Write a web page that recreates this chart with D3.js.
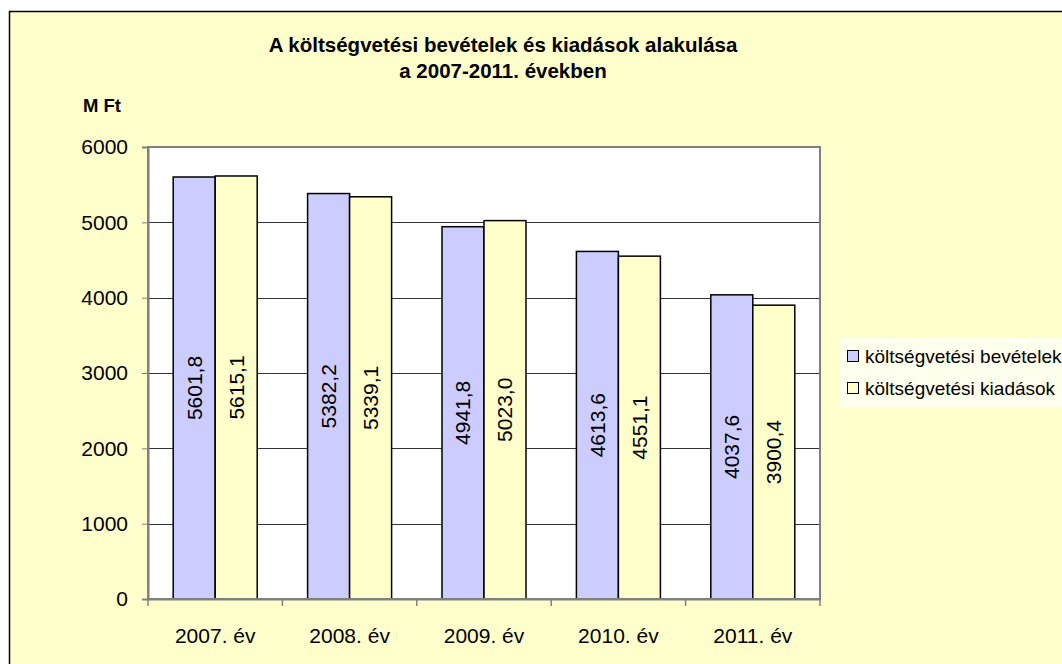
<!DOCTYPE html>
<html>
<head>
<meta charset="utf-8">
<script src="https://cdn.jsdelivr.net/npm/d3@7"></script>
<style>
  body { margin: 0; background: #fff; }
  svg { display: block; font-family: "Liberation Sans", Arial, sans-serif; }
</style>
</head>
<body>
<div id="root"></div>
<script>
const years = ["2007. év", "2008. év", "2009. év", "2010. év", "2011. év"];
const bevetelek = [5601.8, 5382.2, 4941.8, 4613.6, 4037.6];
const kiadasok = [5615.1, 5339.1, 5023.0, 4551.1, 3900.4];
const seriesNames = ["költségvetési bevételek", "költségvetési kiadások"];
const seriesColors = ["#ccccff", "#ffffcc"];
const yTicks = [0, 1000, 2000, 3000, 4000, 5000, 6000];

const W = 1062, H = 664;
const plot = { left: 148, right: 820, top: 147, bottom: 599 };
const FONT = "Liberation Sans, Arial, sans-serif";

const svg = d3.select("#root").append("svg")
  .attr("width", W).attr("height", H);

// chart area
svg.append("rect")
  .attr("x", 9.5).attr("y", 11.5)
  .attr("width", W + 20).attr("height", H + 20)
  .attr("fill", "#ffffcc")
  .attr("stroke", "#000").attr("stroke-width", 1.5);

const x = d3.scaleBand()
  .domain(years)
  .range([plot.left, plot.right])
  .paddingInner(0).paddingOuter(0);

const y = d3.scaleLinear()
  .domain([0, 6000])
  .range([plot.bottom, plot.top]);

// plot area
svg.append("rect")
  .attr("x", plot.left).attr("y", plot.top)
  .attr("width", plot.right - plot.left).attr("height", plot.bottom - plot.top)
  .attr("fill", "#fff");

// gridlines
svg.append("g")
  .selectAll("line")
  .data(yTicks.filter(d => d > 0 && d < 6000))
  .enter().append("line")
  .attr("x1", plot.left).attr("x2", plot.right)
  .attr("y1", d => Math.round(y(d)) + 0.5).attr("y2", d => Math.round(y(d)) + 0.5)
  .attr("stroke", "#333").attr("stroke-width", 1);

// bars
const inner = d3.scaleBand()
  .domain([0, 1])
  .range([0, x.bandwidth()])
  .paddingOuter(0.6).paddingInner(0);

const barData = [];
years.forEach((yr, i) => {
  [bevetelek[i], kiadasok[i]].forEach((v, s) => barData.push({ yr, v, s }));
});

const bars = svg.append("g").selectAll("g")
  .data(barData)
  .enter().append("g");

bars.append("rect")
  .attr("x", d => x(d.yr) + inner(d.s))
  .attr("y", d => y(d.v))
  .attr("width", inner.bandwidth())
  .attr("height", d => y(0) - y(d.v))
  .attr("fill", d => seriesColors[d.s])
  .attr("stroke", "#000").attr("stroke-width", 1.5);

bars.append("text")
  .attr("transform", d => {
    const cx = x(d.yr) + inner(d.s) + inner.bandwidth() / 2;
    const cy = (y(d.v) + y(0)) / 2;
    return "translate(" + cx + "," + cy + ") rotate(-90)";
  })
  .attr("text-anchor", "middle")
  .attr("dy", "0.35em")
  .attr("font-size", 21)
  .attr("fill", "#000")
  .text(d => d.v.toFixed(1).replace(".", ","));

// plot border
svg.append("rect")
  .attr("x", plot.left).attr("y", plot.top)
  .attr("width", plot.right - plot.left).attr("height", plot.bottom - plot.top)
  .attr("fill", "none")
  .attr("stroke", "#808080").attr("stroke-width", 2);

// y axis
const yAxis = svg.append("g")
  .attr("transform", "translate(" + plot.left + ",0)")
  .call(d3.axisLeft(y).tickValues(yTicks).tickSize(6).tickPadding(14).tickFormat(d3.format("d")));
yAxis.select(".domain").attr("stroke", "#808080").attr("stroke-width", 2);
yAxis.selectAll(".tick line").attr("stroke", "#808080");
yAxis.selectAll("text").attr("font-size", 21).attr("fill", "#000")
  .attr("font-family", FONT);

// x axis
const xAxis = svg.append("g")
  .attr("transform", "translate(0," + plot.bottom + ")")
  .call(d3.axisBottom(x).tickSize(0).tickPadding(29));
xAxis.select(".domain").attr("stroke", "#808080").attr("stroke-width", 2);
xAxis.selectAll("text").attr("font-size", 21).attr("fill", "#000")
  .attr("font-family", FONT);
xAxis.selectAll(".tick").select("line").remove();

// category boundary ticks
const bounds = years.map(d => x(d)).concat([plot.right]);
svg.append("g").selectAll("line")
  .data(bounds)
  .enter().append("line")
  .attr("x1", d => d).attr("x2", d => d)
  .attr("y1", plot.bottom).attr("y2", plot.bottom + 7)
  .attr("stroke", "#808080").attr("stroke-width", 1.5);

// title
const title = svg.append("text")
  .attr("x", 503).attr("y", 52)
  .attr("text-anchor", "middle")
  .attr("font-size", 20.5).attr("font-weight", "bold");
title.append("tspan").attr("x", 503).text("A költségvetési bevételek és kiadások alakulása");
title.append("tspan").attr("x", 503).attr("dy", 26).text("a 2007-2011. években");

svg.append("text")
  .attr("x", 83).attr("y", 112)
  .attr("font-size", 18.5).attr("font-weight", "bold")
  .text("M Ft");

// legend
const legend = svg.append("g").attr("transform", "translate(840,338)");
legend.append("rect")
  .attr("x", 0).attr("y", 0)
  .attr("width", 240).attr("height", 70)
  .attr("fill", "#ffffee");
const items = legend.selectAll("g.item")
  .data(seriesNames)
  .enter().append("g")
  .attr("transform", (d, i) => "translate(0," + (i * 32) + ")");
items.append("rect")
  .attr("x", 7.5).attr("y", 12.5)
  .attr("width", 11).attr("height", 11)
  .attr("fill", (d, i) => seriesColors[i])
  .attr("stroke", "#000").attr("stroke-width", 1);
items.append("text")
  .attr("x", 25).attr("y", 25)
  .attr("font-size", 19)
  .text(d => d);
</script>
</body>
</html>
